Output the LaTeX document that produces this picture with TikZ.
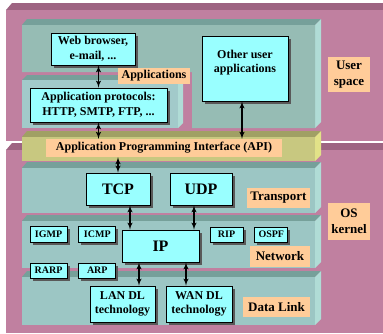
\documentclass[tikz,border=0pt]{standalone}
\usepackage{fontspec}
\setmainfont{Liberation Serif}
\usetikzlibrary{arrows,positioning,shadows}

\definecolor{pinkfront}{HTML}{C080A0}
\definecolor{pinktop}{HTML}{9E6482}
\definecolor{tealfront}{HTML}{96BCB4}
\definecolor{tealkern}{HTML}{9CC6C4}
\definecolor{tealtop}{HTML}{76A09A}
\definecolor{tealside}{HTML}{B0DCD6}
\definecolor{tealpale}{HTML}{A2CACA}
\definecolor{apifront}{HTML}{C8C880}
\definecolor{apitop}{HTML}{A0A064}
\definecolor{apiside}{HTML}{E2E288}
\definecolor{boxcyan}{HTML}{99FFFF}
\definecolor{tagorange}{HTML}{FFCC99}

\begin{document}
\begin{tikzpicture}[x=1pt,y=-1pt,>=latex',font=\bfseries\fontsize{12}{14.5}\selectfont,
  box/.style={draw=black,thick,fill=boxcyan,align=center,inner sep=0pt,
    drop shadow={shadow xshift=2.5pt,shadow yshift=-2.5pt,fill=black!65,opacity=1}},
  smallbox/.style={box,font=\bfseries\fontsize{10}{12}\selectfont},
  bigbox/.style={box,font=\bfseries\fontsize{16}{18}\selectfont},
  tag/.style={fill=tagorange,align=center,inner sep=0pt},
  layer/.style={tag,font=\bfseries\fontsize{13}{15.5}\selectfont},
  link/.style={<->,line width=1.4pt}]
\useasboundingbox (0,0) rectangle (383,333);
\fill[white] (0,0) rectangle (383,333);

% user space and OS kernel
\fill[pinktop] (6,10) -- (12,3) -- (383,3) -- (383,10) -- cycle;
\fill[pinkfront] (6,10) rectangle (383,141);
\fill[pinktop] (6,150) -- (12,143) -- (383,143) -- (383,150) -- cycle;
\fill[pinkfront] (6,150) rectangle (383,333);

% applications
\fill[tealtop] (22,25) -- (27,19) -- (321,19) -- (315,25) -- cycle;
\fill[tealside] (315,25) -- (321,19) -- (321,122) -- (315,128) -- cycle;
\fill[tealfront] (22,25) -- (315,25) -- (315,128) -- (192,128) -- (192,72) -- (22,72) -- cycle;
\fill[tealtop] (22,80) -- (27,75) -- (183,75) -- (178,80) -- cycle;
\fill[tealside] (178,80) -- (183,75) -- (183,123) -- (178,128) -- cycle;
\fill[tealpale] (22,80) rectangle (178,128);

% API
\fill[apitop] (22,137) -- (27,131) -- (321,131) -- (315,137) -- cycle;
\fill[apiside] (315,137) -- (321,131) -- (321,155) -- (315,161) -- cycle;
\fill[apifront] (22,137) rectangle (315,161);

% transport, network, data link
\foreach \ya/\yb in {168/213,221/268,277/325}{
  \fill[tealtop] (22,\ya) -- (27,\ya-6) -- (321,\ya-6) -- (315,\ya) -- cycle;
  \fill[tealside] (315,\ya) -- (321,\ya-6) -- (321,\yb-6) -- (315,\yb) -- cycle;
  \fill[tealkern] (22,\ya) rectangle (315,\yb);
}

\node[box,minimum width=84pt,minimum height=32pt] (web) at (93,49) {Web browser,\\e-mail, ...};
\node[box,minimum width=137pt,minimum height=34pt] (approt) at (98.5,105) {Application protocols:\\HTTP, SMTP, FTP, ...};
\node[tag,minimum width=72pt,minimum height=16pt] (apps) at (154,76) {Applications};
\node[box,minimum width=86pt,minimum height=65pt] (other) at (245,68.5) {};
\node[below=14pt of other.north,align=center,inner sep=0pt] (othertext) {Other user\\applications};
\node[layer,minimum width=42pt,minimum height=35pt] (userspace) at (349,74.5) {User\\space};
\node[tag,minimum width=236pt,minimum height=18pt] (api) at (164,148) {Application Programming Interface (API)};

\node[bigbox,minimum width=64pt,minimum height=32pt] (tcp) at (118,189) {TCP};
\node[bigbox,minimum width=62pt,minimum height=32pt] (udp) at (201,189) {UDP};
\node[layer,minimum width=63pt,minimum height=20pt] (transport) at (278.5,198) {Transport};
\node[layer,minimum width=42pt,minimum height=37pt] (oskernel) at (349,221.5) {OS\\kernel};

\node[smallbox,minimum width=37pt,minimum height=16pt] (igmp) at (48.5,234) {IGMP};
\node[smallbox,minimum width=37pt,minimum height=16pt,right=11pt of igmp] (icmp) {ICMP};
\node[smallbox,minimum width=37pt,minimum height=15pt] (rarp) at (48.5,270.5) {RARP};
\node[smallbox,minimum width=37pt,minimum height=15pt,right=11pt of rarp] (arp) {ARP};
\node[bigbox,minimum width=77pt,minimum height=32pt] (ip) at (160.5,246) {IP};
\node[smallbox,minimum width=33pt,minimum height=15pt] (rip) at (226.5,234.5) {RIP};
\node[smallbox,minimum width=33pt,minimum height=15pt,right=11pt of rip] (ospf) {OSPF};
\node[layer,minimum width=60pt,minimum height=21pt] (network) at (280,256.5) {Network};

\node[box,minimum width=65pt,minimum height=36pt] (lan) at (122.5,304) {LAN DL\\technology};
\node[box,minimum width=66pt,minimum height=36pt] (wan) at (199,304) {WAN DL\\technology};
\node[layer,minimum width=67pt,minimum height=20pt] (datalink) at (276.5,307) {Data Link};

\draw[link] (approt.north |- web.south) -- (approt.north);
\draw[link] (approt.south) -- (approt.south |- api.north);
\draw[link] ([xshift=-3pt]other.south) -- ([xshift=-3pt]other.south |- api.north);
\draw[link] (tcp.north |- api.south) -- (tcp.north);
\draw[link] ([xshift=12pt]tcp.south) -- ([xshift=12pt]tcp.south |- ip.north);
\draw[link] ([xshift=-7pt]udp.south) -- ([xshift=-7pt]udp.south |- ip.north);
\draw[link] ([xshift=16.5pt]lan.north |- ip.south) -- ([xshift=16.5pt]lan.north);
\draw[link] ([xshift=-13pt]wan.north |- ip.south) -- ([xshift=-13pt]wan.north);
\end{tikzpicture}
\end{document}
